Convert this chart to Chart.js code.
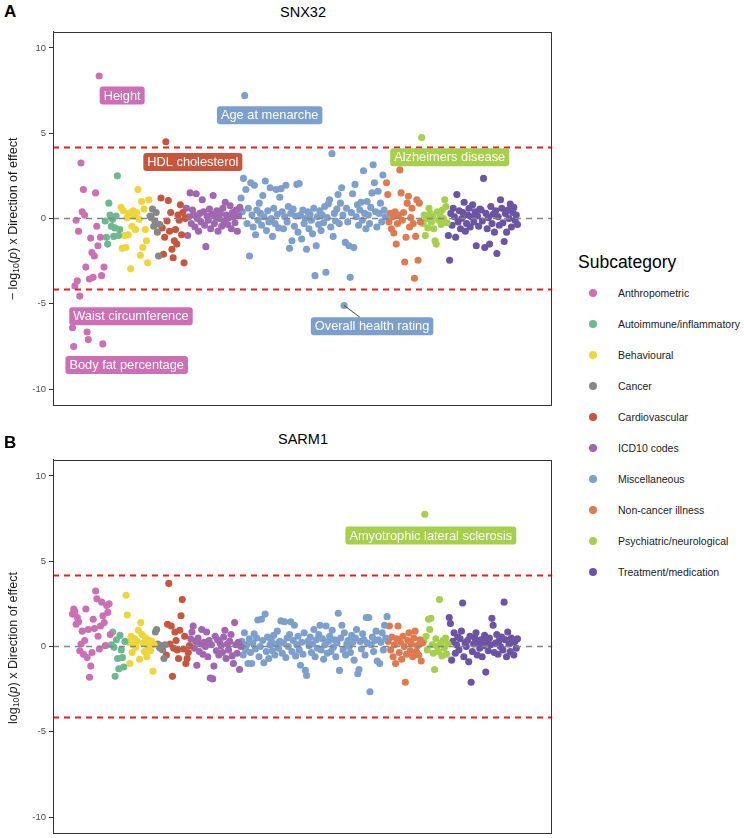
<!DOCTYPE html>
<html><head><meta charset="utf-8">
<script src="https://cdn.jsdelivr.net/npm/chart.js@4/dist/chart.umd.min.js"></script>
<style>
html,body{margin:0;padding:0;width:744px;height:838px;overflow:hidden;background:#fff;font-family:"Liberation Sans",Arial,Helvetica,sans-serif;}
canvas{position:absolute;left:0;}
.tag{position:absolute;font-weight:bold;font-size:17px;color:#000;line-height:18px;}
.ttl{position:absolute;font-size:14.5px;color:#000;transform:translate(-50%,-50%);white-space:nowrap;}
.ylab{position:absolute;font-size:12.5px;color:#1a1a1a;white-space:nowrap;transform:translate(-50%,-50%) rotate(-90deg);}
.ylab sub{font-size:70%;vertical-align:-0.2em;line-height:0;}
.lgt{position:absolute;left:578px;top:251px;font-size:17.5px;line-height:22px;color:#000;}
.lgd{position:absolute;width:8px;height:8px;border-radius:50%;}
.lgx{position:absolute;font-size:10.5px;color:#1a1a1a;white-space:nowrap;transform:translateY(-50%);}
</style></head><body>
<div class="tag" style="left:4px;top:3px">A</div>
<div class="ttl" style="left:303px;top:12px">SNX32</div>
<canvas id="cA" width="556" height="414" style="top:0;width:556px;height:414px"></canvas>
<div class="ylab" style="left:13px;top:219px">− log<sub>10</sub>(<i>p</i>) x Direction of effect</div>
<div class="tag" style="left:4px;top:434px">B</div>
<div class="ttl" style="left:303px;top:439px">SARM1</div>
<canvas id="cB" width="556" height="414" style="top:428.3px;width:556px;height:414px"></canvas>
<div class="ylab" style="left:13px;top:647.7px">log<sub>10</sub>(<i>p</i>) x Direction of effect</div>
<div class="lgt">Subcategory</div>
<div id="legend"></div>
<script>
// ---------- categories ----------
const subcategories = ['Anthropometric','Autoimmune/inflammatory','Behavioural','Cancer','Cardiovascular','ICD10 codes','Miscellaneous','Non-cancer illness','Psychiatric/neurological','Treatment/medication'];
const colours = ['#CD6FB5','#6DB88F','#EDD53A','#878787','#C8553D','#A066B1','#7C9FCB','#E07A4E','#A6D04C','#6B54A3'];
const yTicks = [-10,-5,0,5,10];
const significance = 4.16;

// ---------- SNX32 (panel A) ----------
const snxAnthropometric = [-6.4,-7.5,-3.95,-0.1,-3.65,-0.75,-4.55,3.25,0.4,1.7,0.2,-2.85,-6.65,-7.1,-3.55,-1.15,-2.0,-3.45,-2.2,1.5,-0.45,-1.6,8.35,-1.1,-3.35,-7.35,-2.85];
const snxAutoimmune = [-0.15,-1.1,-1.5,0.9,0.2,-0.45,-0.05,-1.05,-0.55,0.15,2.5,-1.0,-0.65];
const snxBehavioural = [0.65,-1.75,0.45,-1.0,-1.7,0.05,-0.95,0.3,-2.95,-0.45,0.45,0.15,-0.65,0.35,1.7,-0.05,-2.15,1.0,-1.7,0.55,-0.65,-1.3,-2.6,1.1];
const snxCancer = [0.15,0.05,0.55,-0.45,-0.15,0.35,-0.8,-2.2,-0.35];
const snxCardiovascular = [1.2,-0.55,-2.1,-1.1,4.5,-0.15,1.05,-0.75,0.35,-1.8,-2.3,-1.3,-0.65,-1.5,0.2,-0.1,0.8,-0.95,0.35,-2.6,0.0];
const snxICD10 = [0.6,-1.0,0.1,1.5,-0.3,0.5,0.2,-0.5,1.45,0.0,-0.75,0.3,-0.2,1.1,0.4,-0.4,-1.65,0.15,-0.1,0.55,-0.6,0.25,1.35,-0.3,0.1,0.45,-0.75,0.0,0.3,-0.45,0.6,-0.15,0.95,0.2,-0.35,0.05,0.75,-0.6,0.35,0.1,-0.25,0.5,-0.75,0.15,0.65];
const snxMiscellaneous = [1.2,0.4,2.35,7.2,1.7,-0.3,0.6,-2.2,
 2.1,0.2,-0.5,1.95,-0.95,0.5,-0.1,0.9,
 0.3,-0.4,1.35,0.1,2.2,-0.7,0.45,-0.2,
 1.8,0.0,-1.05,0.6,-0.3,1.7,0.25,-0.55,
 1.25,1.75,0.4,-0.6,0.1,1.95,-0.2,0.7,
 -1.75,0.3,-1.3,0.55,-0.45,0.15,2.0,-0.8,
 2.05,0.2,-1.2,0.5,-0.3,0.0,-1.8,0.4,
 -0.6,0.25,-0.1,-0.9,0.6,-3.35,-1.6,0.1,
 -0.35,0.45,-0.7,0.2,-0.25,0.7,-3.15,0.05,
 0.85,1.1,-0.5,3.8,-1.05,0.3,-0.15,0.55,
 1.4,-0.3,0.9,1.8,0.2,-5.1,-1.4,0.6,
 -0.2,-1.6,-3.45,0.35,1.45,-1.7,2.0,0.1,
 0.8,-0.4,0.5,0.95,-0.1,2.8,0.3,-0.6,
 1.0,0.2,-0.3,0.65,1.5,3.15,2.1,0.4,
 -0.5,1.6,0.3,0.9,-0.2,2.55,0.5,0.1];
const snxNonCancer = [2.1,1.4,-0.2,0.3,-0.6,0.1,-0.85,0.4,-1.5,-0.3,0.2,2.85,1.5,-0.1,0.35,-2.55,-1.1,0.9,1.3,-0.5,0.05,0.6,-0.3,-3.5,-1.05,1.1,-2.45,0.9,-0.2];
const snxPsychiatric = [4.75,-0.3,0.2,-1.0,0.0,-0.55,0.6,0.3,-0.2,0.1,-0.6,-1.3,-1.5,0.4,-0.1,0.25,-0.35,0.5,0.0,1.1,0.7,-0.25];
const snxTreatment = [-1.0,-2.45,0.3,-0.4,0.6,0.1,-1.1,1.4,-0.2,0.45,-0.6,0.0,0.35,0.95,-0.75,-0.3,0.2,0.6,-0.5,0.1,0.8,-0.2,0.4,-1.6,0.15,-0.45,0.55,0.5,-0.15,2.35,-1.7,0.3,-0.6,0.05,-1.5,0.7,-0.3,0.25,-0.8,0.45,-2.05,0.1,-0.4,1.1,0.6,-0.25,-1.35,0.3,-0.8,0.5,0.0,0.85,-0.5,0.35,0.65,-0.1,0.2,-0.35];

// ---------- SARM1 (panel B) ----------
const sarmAnthropometric = [1.9,2.2,2.05,1.3,1.7,1.45,-0.25,0.15,0.9,-0.45,0.35,2.2,-0.65,1.0,-1.8,-1.15,-0.35,1.6,1.05,3.25,2.8,0.6,-0.15,1.2,2.6,1.8,1.4,0.05,2.4,2.0,2.5,0.7];
const sarmAutoimmune = [0.1,0.85,-0.05,-1.75,0.4,-0.7,-1.3,0.65,-0.2,-0.65,-1.2,0.3];
const sarmBehavioural = [3.0,1.85,0.25,-1.0,0.6,-0.35,0.1,0.45,-0.05,0.3,0.95,-0.75,1.4,0.7,0.2,-0.3,0.5,-0.6,0.0,0.35,-0.25,0.3,-1.45,0.1];
const sarmCancer = [0.85,1.0,0.15,0.0,-0.1,0.05,-0.2,-0.7,0.1];
const sarmCardiovascular = [-0.5,1.3,3.7,0.15,1.2,-1.75,-0.1,0.85,0.35,-0.2,-0.7,0.95,1.8,2.75,-0.15,0.6,-1.0,-0.7,-0.35,0.05];
const sarmICD10 = [0.45,0.85,1.2,-0.1,0.3,-1.1,0.5,-0.3,0.15,1.0,-0.45,0.25,0.0,0.85,-0.6,0.35,-1.85,0.1,-1.9,-1.15,0.6,-0.25,0.4,-0.5,0.2,0.05,-0.35,0.55,0.95,-0.7,0.15,-0.2,0.3,0.7,-0.55,-1.0,1.4,0.1,-0.4,0.25,-1.35,0.0];
const sarmMiscellaneous = [0.3,-0.5,0.8,-0.2,0.1,-1.0,0.45,-0.35,
 -1.0,0.2,0.75,-0.15,0.5,1.55,-0.6,0.0,
 1.6,0.35,-0.95,1.9,-0.3,0.55,-0.7,0.1,
 0.4,-0.25,0.65,-0.5,0.15,0.9,-0.1,0.3,
 1.5,-0.4,0.2,1.45,-0.65,0.5,0.0,0.7,
 1.45,-0.3,0.35,1.25,-0.55,0.1,0.6,-0.2,
 -1.1,0.25,-0.45,0.8,-1.4,-1.7,0.3,0.05,
 0.55,-0.35,0.15,1.0,-0.6,0.4,-0.1,0.7,
 1.25,-0.2,0.45,-0.75,0.1,1.2,-0.4,0.3,
 0.6,-0.3,0.95,-0.05,0.4,-0.6,0.2,1.95,
 -1.4,0.5,1.25,-0.2,0.8,-0.5,0.15,0.35,
 0.0,-0.35,0.65,0.25,-0.8,0.5,1.0,-1.6,
 -1.35,0.3,-0.15,0.75,0.4,-0.5,1.7,0.2,
 1.7,-2.65,0.1,0.55,-0.3,0.35,0.9,-0.85,
 0.4,-1.0,0.25,0.8,-0.2,1.25,0.5,1.75];
const sarmNonCancer = [0.3,1.2,-0.2,0.55,-0.6,0.1,-1.0,0.45,1.2,-0.35,0.25,-0.75,0.6,0.0,-2.1,-0.45,0.35,0.8,-0.25,0.15,-0.6,0.5,0.9,-0.3,0.05,-0.5,0.4,-0.85,0.2];
const sarmPsychiatric = [0.3,7.75,0.6,-0.2,1.6,1.0,1.65,0.1,-0.4,-1.35,0.45,0.0,-0.3,2.75,0.2,-0.55,0.35,-0.1,0.5,-0.45,0.15];
const sarmTreatment = [1.7,1.35,-0.8,0.3,0.8,-0.4,0.1,0.55,-0.2,0.45,0.9,2.55,-0.6,0.2,0.0,0.35,-0.9,0.6,-2.1,-0.3,0.15,0.5,0.8,-0.5,0.25,-0.1,0.4,-0.6,0.05,0.65,-1.5,0.3,-0.25,0.5,0.1,1.65,1.25,-0.35,0.2,0.7,-0.45,0.35,0.0,0.55,-0.2,2.6,0.4,-0.6,0.85,0.15,-0.3,0.5,0.25,-0.5,0.3,-0.1,0.45];

// ---------- annotated phenotypes ----------
const labelsA = [
  {cat:'Anthropometric', y:8.35, text:'Height', dx:23, dy:19.5},
  {cat:'Miscellaneous', y:7.2, text:'Age at menarche', dx:25, dy:19.5},
  {cat:'Cardiovascular', y:4.5, text:'HDL cholesterol', dx:27, dy:20.3},
  {cat:'Psychiatric/neurological', y:4.75, text:'Alzheimers disease', dx:28, dy:19.7},
  {cat:'Anthropometric', y:-6.4, text:'Waist circumference', dx:58.5, dy:-11.4},
  {cat:'Anthropometric', y:-7.5, text:'Body fat percentage', dx:53, dy:18.5},
  {cat:'Miscellaneous', y:-5.1, text:'Overall health rating', dx:28, dy:20.8, segment:true}
];
const labelsB = [
  {cat:'Psychiatric/neurological', y:7.75, text:'Amyotrophic lateral sclerosis', dx:6, dy:21.3}
];

const FONT = '"Liberation Sans", Arial, Helvetica, sans-serif';
Chart.defaults.font.family = FONT;

function buildDatasets(series){
  let idx = 0;
  const ds = subcategories.map((name,i)=>({
    label:name,
    data: series[i].map(v=>({x: idx++, y: v})),
    backgroundColor: colours[i],
    borderWidth:0,
    pointRadius:3.55,
    pointHoverRadius:3.55
  }));
  return {ds, n: idx};
}

const framePlugin = {
  id:'frame',
  afterDatasetsDraw(chart){
    const {ctx, chartArea:a, scales:{y}} = chart;
    ctx.save();
    ctx.beginPath(); ctx.rect(a.left,a.top,a.width,a.height); ctx.clip();
    ctx.setLineDash([6,5]);
    ctx.lineWidth = 1.6; ctx.strokeStyle = '#858585';
    let py = y.getPixelForValue(0);
    ctx.beginPath(); ctx.moveTo(a.left,py); ctx.lineTo(a.right,py); ctx.stroke();
    ctx.lineWidth = 1.9; ctx.strokeStyle = '#E3201C';
    [significance,-significance].forEach(v=>{
      const p = y.getPixelForValue(v);
      ctx.beginPath(); ctx.moveTo(a.left,p); ctx.lineTo(a.right,p); ctx.stroke();
    });
    ctx.restore();
  },
  afterDraw(chart){
    const {ctx, chartArea:a} = chart;
    ctx.save();
    ctx.strokeStyle = '#333'; ctx.lineWidth = 1;
    ctx.strokeRect(Math.round(a.left)+0.5, Math.round(a.top)+0.5, Math.round(a.width)-1, Math.round(a.height)-1);
    const labels = chart.options.plugins.frame.labels || [];
    ctx.font = '12.8px ' + FONT;
    ctx.textAlign = 'center'; ctx.textBaseline = 'middle';
    labels.forEach(l=>{
      const di = subcategories.indexOf(l.cat);
      const pi = chart.data.datasets[di].data.findIndex(p=>p.y===l.y);
      const el = chart.getDatasetMeta(di).data[pi];
      const cx = el.x + l.dx, cy = el.y + l.dy;
      const w = ctx.measureText(l.text).width + 8, h = 18;
      if (l.segment){
        const top = cy - h/2;
        const t = (top - el.y)/(cy - el.y);
        ctx.beginPath(); ctx.strokeStyle='#333'; ctx.lineWidth=0.9;
        ctx.moveTo(el.x, el.y); ctx.lineTo(el.x + t*(cx-el.x), top); ctx.stroke();
      }
      ctx.fillStyle = colours[di];
      ctx.beginPath(); ctx.roundRect(cx-w/2, cy-h/2, w, h, 3); ctx.fill();
      ctx.fillStyle = '#fff';
      ctx.fillText(l.text, cx, cy+0.5);
    });
    ctx.restore();
  }
};

function makeChart(id, series, labels){
  const {ds, n} = buildDatasets(series);
  const f0 = 0.039, f1 = 0.93;
  const R = (n-1)/(f1-f0);
  const xmin = -f0*R;
  new Chart(document.getElementById(id), {
    type:'scatter',
    data:{datasets:ds},
    options:{
      responsive:false, animation:false, devicePixelRatio:1,
      events:[],
      layout:{padding:{left:0,right:3,top:31.7,bottom:7.3}},
      plugins:{legend:{display:false}, tooltip:{enabled:false}, frame:{labels}},
      scales:{
        x:{type:'linear', display:false, min:xmin, max:xmin+R},
        y:{type:'linear', min:-10.95, max:10.95,
           afterFit(s){ s.width = 53; },
           afterBuildTicks(s){ s.ticks = yTicks.map(v=>({value:v})); },
           ticks:{font:{size:9.5}, color:'#4d4d4d', padding:3},
           grid:{drawOnChartArea:false, drawTicks:true, tickLength:4, color:'#333', lineWidth:1},
           border:{display:true, color:'#333', width:1}
        }
      }
    },
    plugins:[framePlugin]
  });
}

makeChart('cA', [snxAnthropometric, snxAutoimmune, snxBehavioural, snxCancer, snxCardiovascular, snxICD10, snxMiscellaneous, snxNonCancer, snxPsychiatric, snxTreatment], labelsA);
makeChart('cB', [sarmAnthropometric, sarmAutoimmune, sarmBehavioural, sarmCancer, sarmCardiovascular, sarmICD10, sarmMiscellaneous, sarmNonCancer, sarmPsychiatric, sarmTreatment], labelsB);

const lg = document.getElementById('legend');
subcategories.forEach((name,i)=>{
  const cy = 293 + 31*i;
  const d = document.createElement('div');
  d.className='lgd'; d.style.left='589px'; d.style.top=(cy-4)+'px'; d.style.background=colours[i];
  lg.appendChild(d);
  const t = document.createElement('div');
  t.className='lgx'; t.style.left='618px'; t.style.top=cy+'px'; t.textContent=name;
  lg.appendChild(t);
});
</script>
</body></html>
